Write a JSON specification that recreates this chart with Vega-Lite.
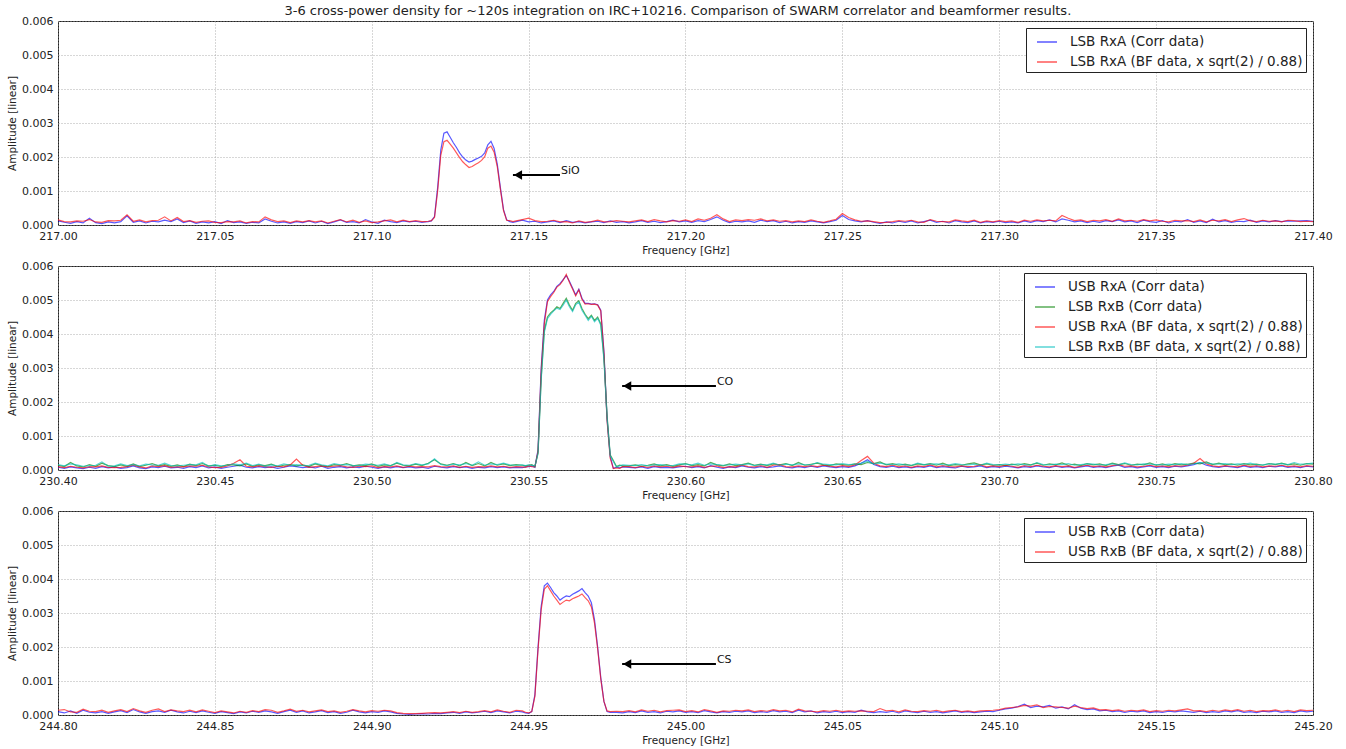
{
"$schema": "https://vega.github.io/schema/vega-lite/v6.json",
"padding": {"left": 7, "top": 4, "right": 0, "bottom": 0},
"title": {"text": "3-6 cross-power density for ~120s integration on IRC+10216. Comparison of SWARM correlator and beamformer results.", "fontSize": 13, "fontWeight": "normal", "font": "DejaVu Sans", "color": "#222", "offset": 1, "dy": 4, "dx": 8, "anchor": "middle"},
"bounds": "flush",
"spacing": 41,
"resolve": {"scale": {"color": "independent", "x": "independent", "y": "independent"}, "legend": {"color": "independent"}},
"datasets": {
"p1": [
{"f":217.000,"c":0.00012,"b":0.00015},{"f":217.002,"c":0.00008,"b":0.00010},{"f":217.004,"c":0.00005,"b":0.00009},{"f":217.006,"c":0.00010,"b":0.00012},{"f":217.008,"c":0.00006,"b":0.00011},{"f":217.010,"c":0.00020,"b":0.00016},{"f":217.012,"c":0.00007,"b":0.00009},{"f":217.014,"c":0.00004,"b":0.00008},{"f":217.016,"c":0.00009,"b":0.00013},{"f":217.018,"c":0.00006,"b":0.00012},
{"f":217.020,"c":0.00010,"b":0.00014},{"f":217.022,"c":0.00027,"b":0.00030},{"f":217.024,"c":0.00008,"b":0.00011},{"f":217.026,"c":0.00012,"b":0.00015},{"f":217.028,"c":0.00006,"b":0.00009},{"f":217.030,"c":0.00011,"b":0.00013},{"f":217.032,"c":0.00009,"b":0.00014},{"f":217.034,"c":0.00014,"b":0.00024},{"f":217.036,"c":0.00010,"b":0.00012},{"f":217.038,"c":0.00018,"b":0.00022},
{"f":217.040,"c":0.00007,"b":0.00010},{"f":217.042,"c":0.00012,"b":0.00013},{"f":217.044,"c":0.00005,"b":0.00008},{"f":217.046,"c":0.00009,"b":0.00011},{"f":217.048,"c":0.00006,"b":0.00012},{"f":217.050,"c":0.00010,"b":0.00008},{"f":217.052,"c":0.00004,"b":0.00007},{"f":217.054,"c":0.00013,"b":0.00010},{"f":217.056,"c":0.00007,"b":0.00009},{"f":217.058,"c":0.00009,"b":0.00012},
{"f":217.060,"c":0.00005,"b":0.00006},{"f":217.062,"c":0.00008,"b":0.00010},{"f":217.064,"c":0.00006,"b":0.00009},{"f":217.066,"c":0.00018,"b":0.00024},{"f":217.068,"c":0.00011,"b":0.00015},{"f":217.070,"c":0.00006,"b":0.00010},{"f":217.072,"c":0.00009,"b":0.00012},{"f":217.074,"c":0.00005,"b":0.00007},{"f":217.076,"c":0.00010,"b":0.00012},{"f":217.078,"c":0.00007,"b":0.00009},
{"f":217.080,"c":0.00012,"b":0.00013},{"f":217.082,"c":0.00006,"b":0.00009},{"f":217.084,"c":0.00011,"b":0.00012},{"f":217.086,"c":0.00004,"b":0.00006},{"f":217.088,"c":0.00009,"b":0.00011},{"f":217.090,"c":0.00015,"b":0.00016},{"f":217.092,"c":0.00008,"b":0.00009},{"f":217.094,"c":0.00010,"b":0.00014},{"f":217.096,"c":0.00006,"b":0.00008},{"f":217.098,"c":0.00016,"b":0.00012},
{"f":217.100,"c":0.00009,"b":0.00007},{"f":217.102,"c":0.00005,"b":0.00009},{"f":217.104,"c":0.00014,"b":0.00012},{"f":217.106,"c":0.00010,"b":0.00015},{"f":217.108,"c":0.00007,"b":0.00009},{"f":217.110,"c":0.00012,"b":0.00014},{"f":217.112,"c":0.00009,"b":0.00010},{"f":217.114,"c":0.00011,"b":0.00013},{"f":217.116,"c":0.00008,"b":0.00010},{"f":217.117,"c":0.00009,"b":0.00010},
{"f":217.118,"c":0.00010,"b":0.00011},{"f":217.119,"c":0.00012,"b":0.00013},{"f":217.120,"c":0.00025,"b":0.00022},{"f":217.121,"c":0.00110,"b":0.00100},{"f":217.122,"c":0.00220,"b":0.00205},{"f":217.123,"c":0.00270,"b":0.00245},{"f":217.124,"c":0.00274,"b":0.00249},{"f":217.125,"c":0.00258,"b":0.00238},{"f":217.126,"c":0.00242,"b":0.00226},{"f":217.127,"c":0.00228,"b":0.00212},
{"f":217.128,"c":0.00212,"b":0.00198},{"f":217.129,"c":0.00200,"b":0.00186},{"f":217.130,"c":0.00191,"b":0.00177},{"f":217.131,"c":0.00185,"b":0.00169},{"f":217.132,"c":0.00188,"b":0.00172},{"f":217.133,"c":0.00193,"b":0.00178},{"f":217.134,"c":0.00197,"b":0.00183},{"f":217.135,"c":0.00202,"b":0.00190},{"f":217.136,"c":0.00212,"b":0.00201},{"f":217.137,"c":0.00236,"b":0.00226},
{"f":217.138,"c":0.00246,"b":0.00232},{"f":217.139,"c":0.00225,"b":0.00214},{"f":217.140,"c":0.00180,"b":0.00172},{"f":217.141,"c":0.00110,"b":0.00105},{"f":217.142,"c":0.00045,"b":0.00042},{"f":217.143,"c":0.00015,"b":0.00014},{"f":217.144,"c":0.00010,"b":0.00013},{"f":217.145,"c":0.00008,"b":0.00010},{"f":217.146,"c":0.00010,"b":0.00012},{"f":217.148,"c":0.00014,"b":0.00016},
{"f":217.150,"c":0.00009,"b":0.00020},{"f":217.152,"c":0.00011,"b":0.00013},{"f":217.154,"c":0.00006,"b":0.00010},{"f":217.156,"c":0.00009,"b":0.00011},{"f":217.158,"c":0.00012,"b":0.00014},{"f":217.160,"c":0.00007,"b":0.00009},{"f":217.162,"c":0.00013,"b":0.00010},{"f":217.164,"c":0.00008,"b":0.00006},{"f":217.166,"c":0.00010,"b":0.00012},{"f":217.168,"c":0.00006,"b":0.00008},
{"f":217.170,"c":0.00009,"b":0.00010},{"f":217.172,"c":0.00011,"b":0.00014},{"f":217.174,"c":0.00007,"b":0.00009},{"f":217.176,"c":0.00012,"b":0.00010},{"f":217.178,"c":0.00008,"b":0.00013},{"f":217.180,"c":0.00010,"b":0.00011},{"f":217.182,"c":0.00006,"b":0.00009},{"f":217.184,"c":0.00009,"b":0.00012},{"f":217.186,"c":0.00013,"b":0.00015},{"f":217.188,"c":0.00008,"b":0.00010},
{"f":217.190,"c":0.00011,"b":0.00016},{"f":217.192,"c":0.00007,"b":0.00012},{"f":217.194,"c":0.00010,"b":0.00009},{"f":217.196,"c":0.00014,"b":0.00013},{"f":217.198,"c":0.00009,"b":0.00011},{"f":217.200,"c":0.00012,"b":0.00015},{"f":217.202,"c":0.00008,"b":0.00010},{"f":217.204,"c":0.00013,"b":0.00018},{"f":217.206,"c":0.00010,"b":0.00014},{"f":217.208,"c":0.00016,"b":0.00020},
{"f":217.210,"c":0.00024,"b":0.00030},{"f":217.212,"c":0.00014,"b":0.00018},{"f":217.214,"c":0.00007,"b":0.00010},{"f":217.216,"c":0.00011,"b":0.00015},{"f":217.218,"c":0.00009,"b":0.00013},{"f":217.220,"c":0.00012,"b":0.00016},{"f":217.222,"c":0.00008,"b":0.00014},{"f":217.224,"c":0.00014,"b":0.00018},{"f":217.226,"c":0.00010,"b":0.00012},{"f":217.228,"c":0.00013,"b":0.00015},
{"f":217.230,"c":0.00007,"b":0.00011},{"f":217.232,"c":0.00011,"b":0.00013},{"f":217.234,"c":0.00006,"b":0.00009},{"f":217.236,"c":0.00010,"b":0.00012},{"f":217.238,"c":0.00008,"b":0.00010},{"f":217.240,"c":0.00012,"b":0.00015},{"f":217.242,"c":0.00009,"b":0.00011},{"f":217.244,"c":0.00006,"b":0.00008},{"f":217.246,"c":0.00010,"b":0.00012},{"f":217.248,"c":0.00014,"b":0.00017},
{"f":217.250,"c":0.00028,"b":0.00034},{"f":217.252,"c":0.00016,"b":0.00022},{"f":217.254,"c":0.00012,"b":0.00015},{"f":217.256,"c":0.00009,"b":0.00011},{"f":217.258,"c":0.00013,"b":0.00012},{"f":217.260,"c":0.00008,"b":0.00010},{"f":217.262,"c":0.00005,"b":0.00007},{"f":217.264,"c":0.00009,"b":0.00008},{"f":217.266,"c":0.00006,"b":0.00010},{"f":217.268,"c":0.00011,"b":0.00013},
{"f":217.270,"c":0.00008,"b":0.00011},{"f":217.272,"c":0.00012,"b":0.00014},{"f":217.274,"c":0.00006,"b":0.00009},{"f":217.276,"c":0.00010,"b":0.00008},{"f":217.278,"c":0.00014,"b":0.00016},{"f":217.280,"c":0.00008,"b":0.00011},{"f":217.282,"c":0.00011,"b":0.00010},{"f":217.284,"c":0.00006,"b":0.00009},{"f":217.286,"c":0.00013,"b":0.00015},{"f":217.288,"c":0.00009,"b":0.00012},
{"f":217.290,"c":0.00007,"b":0.00010},{"f":217.292,"c":0.00012,"b":0.00014},{"f":217.294,"c":0.00006,"b":0.00008},{"f":217.296,"c":0.00010,"b":0.00012},{"f":217.298,"c":0.00008,"b":0.00009},{"f":217.300,"c":0.00011,"b":0.00013},{"f":217.302,"c":0.00007,"b":0.00010},{"f":217.304,"c":0.00009,"b":0.00012},{"f":217.306,"c":0.00006,"b":0.00008},{"f":217.308,"c":0.00012,"b":0.00014},
{"f":217.310,"c":0.00008,"b":0.00011},{"f":217.312,"c":0.00013,"b":0.00015},{"f":217.314,"c":0.00010,"b":0.00012},{"f":217.316,"c":0.00015,"b":0.00014},{"f":217.318,"c":0.00009,"b":0.00012},{"f":217.320,"c":0.00018,"b":0.00028},{"f":217.322,"c":0.00014,"b":0.00020},{"f":217.324,"c":0.00009,"b":0.00013},{"f":217.326,"c":0.00012,"b":0.00015},{"f":217.328,"c":0.00007,"b":0.00010},
{"f":217.330,"c":0.00011,"b":0.00014},{"f":217.332,"c":0.00008,"b":0.00012},{"f":217.334,"c":0.00013,"b":0.00016},{"f":217.336,"c":0.00010,"b":0.00011},{"f":217.338,"c":0.00015,"b":0.00018},{"f":217.340,"c":0.00009,"b":0.00012},{"f":217.342,"c":0.00012,"b":0.00014},{"f":217.344,"c":0.00007,"b":0.00011},{"f":217.346,"c":0.00014,"b":0.00016},{"f":217.348,"c":0.00010,"b":0.00012},
{"f":217.350,"c":0.00008,"b":0.00015},{"f":217.352,"c":0.00013,"b":0.00011},{"f":217.354,"c":0.00006,"b":0.00009},{"f":217.356,"c":0.00011,"b":0.00014},{"f":217.358,"c":0.00009,"b":0.00012},{"f":217.360,"c":0.00016,"b":0.00013},{"f":217.362,"c":0.00008,"b":0.00010},{"f":217.364,"c":0.00012,"b":0.00015},{"f":217.366,"c":0.00007,"b":0.00009},{"f":217.368,"c":0.00017,"b":0.00014},
{"f":217.370,"c":0.00009,"b":0.00012},{"f":217.372,"c":0.00013,"b":0.00016},{"f":217.374,"c":0.00008,"b":0.00010},{"f":217.376,"c":0.00011,"b":0.00015},{"f":217.378,"c":0.00010,"b":0.00019},{"f":217.380,"c":0.00014,"b":0.00012},{"f":217.382,"c":0.00008,"b":0.00010},{"f":217.384,"c":0.00012,"b":0.00014},{"f":217.386,"c":0.00009,"b":0.00011},{"f":217.388,"c":0.00013,"b":0.00012},
{"f":217.390,"c":0.00010,"b":0.00009},{"f":217.392,"c":0.00012,"b":0.00014},{"f":217.394,"c":0.00011,"b":0.00013},{"f":217.396,"c":0.00012,"b":0.00010},{"f":217.398,"c":0.00013,"b":0.00011},{"f":217.400,"c":0.00011,"b":0.00010}
],
"p2": [
{"f":230.400,"a":0.00008,"g":0.00014,"r":0.00010,"t":0.00016},{"f":230.402,"a":0.00005,"g":0.00010,"r":0.00007,"t":0.00012},{"f":230.404,"a":0.00009,"g":0.00022,"r":0.00011,"t":0.00018},{"f":230.406,"a":0.00006,"g":0.00012,"r":0.00008,"t":0.00015},{"f":230.408,"a":0.00004,"g":0.00009,"r":0.00006,"t":0.00011},
{"f":230.410,"a":0.00008,"g":0.00016,"r":0.00010,"t":0.00013},{"f":230.412,"a":0.00005,"g":0.00011,"r":0.00009,"t":0.00014},{"f":230.414,"a":0.00010,"g":0.00020,"r":0.00012,"t":0.00024},{"f":230.416,"a":0.00006,"g":0.00013,"r":0.00008,"t":0.00011},{"f":230.418,"a":0.00009,"g":0.00010,"r":0.00007,"t":0.00012},
{"f":230.420,"a":0.00005,"g":0.00015,"r":0.00008,"t":0.00018},{"f":230.422,"a":0.00007,"g":0.00011,"r":0.00010,"t":0.00013},{"f":230.424,"a":0.00012,"g":0.00018,"r":0.00014,"t":0.00016},{"f":230.426,"a":0.00006,"g":0.00010,"r":0.00009,"t":0.00012},{"f":230.428,"a":0.00004,"g":0.00014,"r":0.00006,"t":0.00017},
{"f":230.430,"a":0.00009,"g":0.00019,"r":0.00012,"t":0.00015},{"f":230.432,"a":0.00007,"g":0.00012,"r":0.00010,"t":0.00014},{"f":230.434,"a":0.00011,"g":0.00016,"r":0.00013,"t":0.00020},{"f":230.436,"a":0.00006,"g":0.00011,"r":0.00008,"t":0.00013},{"f":230.438,"a":0.00008,"g":0.00015,"r":0.00010,"t":0.00012},
{"f":230.440,"a":0.00005,"g":0.00010,"r":0.00009,"t":0.00014},{"f":230.442,"a":0.00010,"g":0.00017,"r":0.00012,"t":0.00016},{"f":230.444,"a":0.00007,"g":0.00013,"r":0.00011,"t":0.00015},{"f":230.446,"a":0.00012,"g":0.00019,"r":0.00014,"t":0.00022},{"f":230.448,"a":0.00006,"g":0.00012,"r":0.00009,"t":0.00011},
{"f":230.450,"a":0.00009,"g":0.00014,"r":0.00007,"t":0.00016},{"f":230.452,"a":0.00005,"g":0.00010,"r":0.00008,"t":0.00012},{"f":230.454,"a":0.00008,"g":0.00016,"r":0.00012,"t":0.00014},{"f":230.456,"a":0.00011,"g":0.00015,"r":0.00020,"t":0.00018},{"f":230.458,"a":0.00014,"g":0.00012,"r":0.00030,"t":0.00015},
{"f":230.460,"a":0.00008,"g":0.00018,"r":0.00011,"t":0.00020},{"f":230.462,"a":0.00006,"g":0.00011,"r":0.00009,"t":0.00013},{"f":230.464,"a":0.00010,"g":0.00015,"r":0.00012,"t":0.00017},{"f":230.466,"a":0.00007,"g":0.00013,"r":0.00010,"t":0.00011},{"f":230.468,"a":0.00009,"g":0.00017,"r":0.00008,"t":0.00015},
{"f":230.470,"a":0.00005,"g":0.00010,"r":0.00011,"t":0.00012},{"f":230.472,"a":0.00008,"g":0.00014,"r":0.00009,"t":0.00018},{"f":230.474,"a":0.00012,"g":0.00016,"r":0.00015,"t":0.00014},{"f":230.476,"a":0.00010,"g":0.00012,"r":0.00032,"t":0.00016},{"f":230.478,"a":0.00007,"g":0.00015,"r":0.00014,"t":0.00013},
{"f":230.480,"a":0.00009,"g":0.00011,"r":0.00008,"t":0.00014},{"f":230.482,"a":0.00006,"g":0.00018,"r":0.00010,"t":0.00020},{"f":230.484,"a":0.00011,"g":0.00013,"r":0.00012,"t":0.00015},{"f":230.486,"a":0.00005,"g":0.00010,"r":0.00009,"t":0.00012},{"f":230.488,"a":0.00008,"g":0.00016,"r":0.00011,"t":0.00019},
{"f":230.490,"a":0.00010,"g":0.00014,"r":0.00013,"t":0.00015},{"f":230.492,"a":0.00006,"g":0.00019,"r":0.00009,"t":0.00016},{"f":230.494,"a":0.00009,"g":0.00012,"r":0.00008,"t":0.00014},{"f":230.496,"a":0.00007,"g":0.00015,"r":0.00011,"t":0.00013},{"f":230.498,"a":0.00011,"g":0.00013,"r":0.00010,"t":0.00017},
{"f":230.500,"a":0.00008,"g":0.00018,"r":0.00012,"t":0.00016},{"f":230.502,"a":0.00005,"g":0.00011,"r":0.00007,"t":0.00014},{"f":230.504,"a":0.00009,"g":0.00015,"r":0.00010,"t":0.00018},{"f":230.506,"a":0.00006,"g":0.00013,"r":0.00009,"t":0.00012},{"f":230.508,"a":0.00010,"g":0.00020,"r":0.00012,"t":0.00022},
{"f":230.510,"a":0.00007,"g":0.00014,"r":0.00008,"t":0.00015},{"f":230.512,"a":0.00009,"g":0.00012,"r":0.00011,"t":0.00014},{"f":230.514,"a":0.00006,"g":0.00017,"r":0.00009,"t":0.00019},{"f":230.516,"a":0.00008,"g":0.00013,"r":0.00010,"t":0.00015},{"f":230.518,"a":0.00005,"g":0.00020,"r":0.00009,"t":0.00018},
{"f":230.520,"a":0.00011,"g":0.00030,"r":0.00013,"t":0.00033},{"f":230.522,"a":0.00008,"g":0.00018,"r":0.00010,"t":0.00016},{"f":230.524,"a":0.00006,"g":0.00014,"r":0.00009,"t":0.00013},{"f":230.526,"a":0.00010,"g":0.00019,"r":0.00012,"t":0.00017},{"f":230.528,"a":0.00007,"g":0.00012,"r":0.00008,"t":0.00015},
{"f":230.530,"a":0.00009,"g":0.00022,"r":0.00011,"t":0.00019},{"f":230.532,"a":0.00005,"g":0.00013,"r":0.00008,"t":0.00014},{"f":230.534,"a":0.00008,"g":0.00019,"r":0.00010,"t":0.00024},{"f":230.536,"a":0.00006,"g":0.00012,"r":0.00009,"t":0.00014},{"f":230.538,"a":0.00010,"g":0.00022,"r":0.00012,"t":0.00018},
{"f":230.540,"a":0.00007,"g":0.00014,"r":0.00009,"t":0.00016},{"f":230.542,"a":0.00009,"g":0.00018,"r":0.00011,"t":0.00020},{"f":230.544,"a":0.00006,"g":0.00013,"r":0.00008,"t":0.00015},{"f":230.546,"a":0.00008,"g":0.00016,"r":0.00010,"t":0.00014},{"f":230.548,"a":0.00007,"g":0.00014,"r":0.00009,"t":0.00015},
{"f":230.549,"a":0.00009,"g":0.00012,"r":0.00008,"t":0.00013},{"f":230.550,"a":0.00010,"g":0.00014,"r":0.00012,"t":0.00015},{"f":230.551,"a":0.00012,"g":0.00016,"r":0.00010,"t":0.00014},{"f":230.552,"a":0.00008,"g":0.00010,"r":0.00009,"t":0.00012},{"f":230.553,"a":0.00060,"g":0.00050,"r":0.00055,"t":0.00048},
{"f":230.554,"a":0.00300,"g":0.00270,"r":0.00290,"t":0.00265},{"f":230.555,"a":0.00440,"g":0.00410,"r":0.00430,"t":0.00405},{"f":230.556,"a":0.00500,"g":0.00450,"r":0.00495,"t":0.00445},{"f":230.557,"a":0.00515,"g":0.00462,"r":0.00510,"t":0.00458},{"f":230.558,"a":0.00525,"g":0.00470,"r":0.00522,"t":0.00468},
{"f":230.559,"a":0.00540,"g":0.00480,"r":0.00538,"t":0.00476},{"f":230.560,"a":0.00548,"g":0.00475,"r":0.00545,"t":0.00472},{"f":230.561,"a":0.00560,"g":0.00490,"r":0.00558,"t":0.00485},{"f":230.562,"a":0.00572,"g":0.00505,"r":0.00575,"t":0.00500},{"f":230.563,"a":0.00555,"g":0.00485,"r":0.00552,"t":0.00480},
{"f":230.564,"a":0.00535,"g":0.00470,"r":0.00532,"t":0.00466},{"f":230.565,"a":0.00515,"g":0.00490,"r":0.00512,"t":0.00486},{"f":230.566,"a":0.00532,"g":0.00498,"r":0.00530,"t":0.00494},{"f":230.567,"a":0.00505,"g":0.00475,"r":0.00502,"t":0.00470},{"f":230.568,"a":0.00490,"g":0.00458,"r":0.00488,"t":0.00455},
{"f":230.569,"a":0.00490,"g":0.00445,"r":0.00489,"t":0.00440},{"f":230.570,"a":0.00488,"g":0.00455,"r":0.00487,"t":0.00452},{"f":230.571,"a":0.00489,"g":0.00440,"r":0.00488,"t":0.00436},{"f":230.572,"a":0.00486,"g":0.00450,"r":0.00485,"t":0.00446},{"f":230.573,"a":0.00470,"g":0.00430,"r":0.00468,"t":0.00426},
{"f":230.574,"a":0.00350,"g":0.00330,"r":0.00345,"t":0.00325},{"f":230.575,"a":0.00150,"g":0.00160,"r":0.00145,"t":0.00155},{"f":230.576,"a":0.00040,"g":0.00045,"r":0.00035,"t":0.00042},{"f":230.577,"a":0.00005,"g":0.00028,"r":0.00004,"t":0.00025},{"f":230.578,"a":0.00008,"g":0.00010,"r":0.00006,"t":0.00009},
{"f":230.579,"a":0.00006,"g":0.00014,"r":0.00005,"t":0.00012},{"f":230.580,"a":0.00009,"g":0.00012,"r":0.00010,"t":0.00015},{"f":230.582,"a":0.00008,"g":0.00012,"r":0.00010,"t":0.00014},{"f":230.584,"a":0.00006,"g":0.00015,"r":0.00007,"t":0.00013},{"f":230.586,"a":0.00009,"g":0.00011,"r":0.00011,"t":0.00016},
{"f":230.588,"a":0.00005,"g":0.00014,"r":0.00008,"t":0.00012},{"f":230.590,"a":0.00010,"g":0.00018,"r":0.00012,"t":0.00015},{"f":230.592,"a":0.00007,"g":0.00012,"r":0.00009,"t":0.00016},{"f":230.594,"a":0.00008,"g":0.00016,"r":0.00011,"t":0.00014},{"f":230.596,"a":0.00006,"g":0.00011,"r":0.00008,"t":0.00013},
{"f":230.598,"a":0.00009,"g":0.00015,"r":0.00012,"t":0.00018},{"f":230.600,"a":0.00011,"g":0.00019,"r":0.00010,"t":0.00017},{"f":230.602,"a":0.00007,"g":0.00013,"r":0.00009,"t":0.00015},{"f":230.604,"a":0.00010,"g":0.00016,"r":0.00012,"t":0.00020},{"f":230.606,"a":0.00006,"g":0.00012,"r":0.00008,"t":0.00014},
{"f":230.608,"a":0.00013,"g":0.00022,"r":0.00011,"t":0.00018},{"f":230.610,"a":0.00008,"g":0.00015,"r":0.00012,"t":0.00016},{"f":230.612,"a":0.00005,"g":0.00012,"r":0.00007,"t":0.00014},{"f":230.614,"a":0.00009,"g":0.00018,"r":0.00010,"t":0.00015},{"f":230.616,"a":0.00007,"g":0.00013,"r":0.00009,"t":0.00017},
{"f":230.618,"a":0.00012,"g":0.00016,"r":0.00014,"t":0.00015},{"f":230.620,"a":0.00008,"g":0.00020,"r":0.00010,"t":0.00018},{"f":230.622,"a":0.00006,"g":0.00014,"r":0.00009,"t":0.00013},{"f":230.624,"a":0.00010,"g":0.00017,"r":0.00013,"t":0.00016},{"f":230.626,"a":0.00007,"g":0.00013,"r":0.00008,"t":0.00015},
{"f":230.628,"a":0.00009,"g":0.00018,"r":0.00014,"t":0.00020},{"f":230.630,"a":0.00012,"g":0.00015,"r":0.00016,"t":0.00014},{"f":230.632,"a":0.00008,"g":0.00019,"r":0.00010,"t":0.00017},{"f":230.634,"a":0.00006,"g":0.00013,"r":0.00009,"t":0.00015},{"f":230.636,"a":0.00010,"g":0.00022,"r":0.00012,"t":0.00018},
{"f":230.638,"a":0.00007,"g":0.00014,"r":0.00010,"t":0.00016},{"f":230.640,"a":0.00011,"g":0.00017,"r":0.00013,"t":0.00015},{"f":230.642,"a":0.00008,"g":0.00020,"r":0.00010,"t":0.00022},{"f":230.644,"a":0.00012,"g":0.00015,"r":0.00014,"t":0.00017},{"f":230.646,"a":0.00009,"g":0.00013,"r":0.00011,"t":0.00016},
{"f":230.648,"a":0.00007,"g":0.00018,"r":0.00009,"t":0.00015},{"f":230.650,"a":0.00010,"g":0.00016,"r":0.00013,"t":0.00019},{"f":230.652,"a":0.00008,"g":0.00014,"r":0.00010,"t":0.00016},{"f":230.654,"a":0.00012,"g":0.00018,"r":0.00015,"t":0.00017},{"f":230.656,"a":0.00020,"g":0.00016,"r":0.00028,"t":0.00020},
{"f":230.658,"a":0.00030,"g":0.00022,"r":0.00040,"t":0.00025},{"f":230.660,"a":0.00016,"g":0.00019,"r":0.00020,"t":0.00018},{"f":230.662,"a":0.00010,"g":0.00024,"r":0.00012,"t":0.00020},{"f":230.664,"a":0.00008,"g":0.00015,"r":0.00010,"t":0.00017},{"f":230.666,"a":0.00011,"g":0.00019,"r":0.00014,"t":0.00016},
{"f":230.668,"a":0.00007,"g":0.00014,"r":0.00009,"t":0.00018},{"f":230.670,"a":0.00009,"g":0.00017,"r":0.00012,"t":0.00015},{"f":230.672,"a":0.00006,"g":0.00013,"r":0.00008,"t":0.00014},{"f":230.674,"a":0.00010,"g":0.00018,"r":0.00012,"t":0.00020},{"f":230.676,"a":0.00008,"g":0.00015,"r":0.00010,"t":0.00016},
{"f":230.678,"a":0.00012,"g":0.00019,"r":0.00015,"t":0.00017},{"f":230.680,"a":0.00007,"g":0.00014,"r":0.00009,"t":0.00018},{"f":230.682,"a":0.00010,"g":0.00020,"r":0.00013,"t":0.00016},{"f":230.684,"a":0.00008,"g":0.00013,"r":0.00010,"t":0.00015},{"f":230.686,"a":0.00006,"g":0.00016,"r":0.00009,"t":0.00019},
{"f":230.688,"a":0.00011,"g":0.00014,"r":0.00012,"t":0.00016},{"f":230.690,"a":0.00008,"g":0.00018,"r":0.00010,"t":0.00015},{"f":230.692,"a":0.00009,"g":0.00021,"r":0.00011,"t":0.00017},{"f":230.694,"a":0.00012,"g":0.00015,"r":0.00015,"t":0.00014},{"f":230.696,"a":0.00007,"g":0.00018,"r":0.00009,"t":0.00020},
{"f":230.698,"a":0.00010,"g":0.00014,"r":0.00012,"t":0.00016},{"f":230.700,"a":0.00008,"g":0.00016,"r":0.00010,"t":0.00015},{"f":230.702,"a":0.00011,"g":0.00013,"r":0.00014,"t":0.00017},{"f":230.704,"a":0.00009,"g":0.00017,"r":0.00011,"t":0.00015},{"f":230.706,"a":0.00006,"g":0.00014,"r":0.00008,"t":0.00018},
{"f":230.708,"a":0.00010,"g":0.00019,"r":0.00013,"t":0.00016},{"f":230.710,"a":0.00008,"g":0.00015,"r":0.00010,"t":0.00014},{"f":230.712,"a":0.00012,"g":0.00020,"r":0.00014,"t":0.00022},{"f":230.714,"a":0.00009,"g":0.00014,"r":0.00011,"t":0.00016},{"f":230.716,"a":0.00007,"g":0.00018,"r":0.00009,"t":0.00015},
{"f":230.718,"a":0.00011,"g":0.00015,"r":0.00013,"t":0.00017},{"f":230.720,"a":0.00008,"g":0.00021,"r":0.00010,"t":0.00016},{"f":230.722,"a":0.00010,"g":0.00014,"r":0.00012,"t":0.00019},{"f":230.724,"a":0.00006,"g":0.00017,"r":0.00008,"t":0.00014},{"f":230.726,"a":0.00009,"g":0.00013,"r":0.00011,"t":0.00016},
{"f":230.728,"a":0.00012,"g":0.00019,"r":0.00014,"t":0.00018},{"f":230.730,"a":0.00008,"g":0.00015,"r":0.00010,"t":0.00017},{"f":230.732,"a":0.00010,"g":0.00018,"r":0.00012,"t":0.00015},{"f":230.734,"a":0.00007,"g":0.00013,"r":0.00009,"t":0.00016},{"f":230.736,"a":0.00011,"g":0.00020,"r":0.00013,"t":0.00018},
{"f":230.738,"a":0.00014,"g":0.00016,"r":0.00016,"t":0.00015},{"f":230.740,"a":0.00008,"g":0.00019,"r":0.00011,"t":0.00021},{"f":230.742,"a":0.00010,"g":0.00014,"r":0.00012,"t":0.00016},{"f":230.744,"a":0.00006,"g":0.00017,"r":0.00009,"t":0.00015},{"f":230.746,"a":0.00009,"g":0.00015,"r":0.00011,"t":0.00018},
{"f":230.748,"a":0.00012,"g":0.00021,"r":0.00014,"t":0.00017},{"f":230.750,"a":0.00008,"g":0.00014,"r":0.00010,"t":0.00016},{"f":230.752,"a":0.00010,"g":0.00018,"r":0.00012,"t":0.00015},{"f":230.754,"a":0.00007,"g":0.00013,"r":0.00009,"t":0.00017},{"f":230.756,"a":0.00011,"g":0.00019,"r":0.00013,"t":0.00016},
{"f":230.758,"a":0.00009,"g":0.00015,"r":0.00011,"t":0.00019},{"f":230.760,"a":0.00012,"g":0.00017,"r":0.00014,"t":0.00016},{"f":230.762,"a":0.00016,"g":0.00020,"r":0.00020,"t":0.00018},{"f":230.764,"a":0.00022,"g":0.00018,"r":0.00034,"t":0.00022},{"f":230.766,"a":0.00014,"g":0.00024,"r":0.00018,"t":0.00020},
{"f":230.768,"a":0.00010,"g":0.00016,"r":0.00012,"t":0.00018},{"f":230.770,"a":0.00008,"g":0.00020,"r":0.00010,"t":0.00017},{"f":230.772,"a":0.00011,"g":0.00015,"r":0.00013,"t":0.00019},{"f":230.774,"a":0.00009,"g":0.00018,"r":0.00011,"t":0.00016},{"f":230.776,"a":0.00007,"g":0.00014,"r":0.00009,"t":0.00018},
{"f":230.778,"a":0.00012,"g":0.00019,"r":0.00014,"t":0.00017},{"f":230.780,"a":0.00008,"g":0.00015,"r":0.00010,"t":0.00020},{"f":230.782,"a":0.00010,"g":0.00017,"r":0.00013,"t":0.00016},{"f":230.784,"a":0.00007,"g":0.00014,"r":0.00009,"t":0.00015},{"f":230.786,"a":0.00011,"g":0.00019,"r":0.00012,"t":0.00018},
{"f":230.788,"a":0.00009,"g":0.00016,"r":0.00011,"t":0.00017},{"f":230.790,"a":0.00012,"g":0.00020,"r":0.00014,"t":0.00019},{"f":230.792,"a":0.00008,"g":0.00015,"r":0.00010,"t":0.00016},{"f":230.794,"a":0.00010,"g":0.00018,"r":0.00012,"t":0.00022},{"f":230.796,"a":0.00007,"g":0.00014,"r":0.00009,"t":0.00017},
{"f":230.798,"a":0.00011,"g":0.00019,"r":0.00013,"t":0.00018},{"f":230.800,"a":0.00009,"g":0.00017,"r":0.00011,"t":0.00020}
],
"p3": [
{"f":244.800,"c":0.00010,"b":0.00014},{"f":244.802,"c":0.00006,"b":0.00016},{"f":244.804,"c":0.00012,"b":0.00009},{"f":244.806,"c":0.00005,"b":0.00008},{"f":244.808,"c":0.00014,"b":0.00017},{"f":244.810,"c":0.00008,"b":0.00011},{"f":244.812,"c":0.00006,"b":0.00010},{"f":244.814,"c":0.00010,"b":0.00014},{"f":244.816,"c":0.00005,"b":0.00008},{"f":244.818,"c":0.00009,"b":0.00012},
{"f":244.820,"c":0.00013,"b":0.00016},{"f":244.822,"c":0.00007,"b":0.00010},{"f":244.824,"c":0.00016,"b":0.00019},{"f":244.826,"c":0.00009,"b":0.00012},{"f":244.828,"c":0.00005,"b":0.00008},{"f":244.830,"c":0.00010,"b":0.00014},{"f":244.832,"c":0.00012,"b":0.00018},{"f":244.834,"c":0.00008,"b":0.00010},{"f":244.836,"c":0.00014,"b":0.00015},{"f":244.838,"c":0.00009,"b":0.00012},
{"f":244.840,"c":0.00006,"b":0.00010},{"f":244.842,"c":0.00011,"b":0.00014},{"f":244.844,"c":0.00007,"b":0.00009},{"f":244.846,"c":0.00012,"b":0.00015},{"f":244.848,"c":0.00008,"b":0.00011},{"f":244.850,"c":0.00005,"b":0.00007},{"f":244.852,"c":0.00010,"b":0.00012},{"f":244.854,"c":0.00007,"b":0.00009},{"f":244.856,"c":0.00004,"b":0.00006},{"f":244.858,"c":0.00009,"b":0.00011},
{"f":244.860,"c":0.00006,"b":0.00008},{"f":244.862,"c":0.00011,"b":0.00013},{"f":244.864,"c":0.00008,"b":0.00010},{"f":244.866,"c":0.00012,"b":0.00016},{"f":244.868,"c":0.00009,"b":0.00014},{"f":244.870,"c":0.00005,"b":0.00008},{"f":244.872,"c":0.00010,"b":0.00012},{"f":244.874,"c":0.00014,"b":0.00017},{"f":244.876,"c":0.00008,"b":0.00011},{"f":244.878,"c":0.00012,"b":0.00014},
{"f":244.880,"c":0.00006,"b":0.00009},{"f":244.882,"c":0.00009,"b":0.00012},{"f":244.884,"c":0.00013,"b":0.00015},{"f":244.886,"c":0.00007,"b":0.00010},{"f":244.888,"c":0.00010,"b":0.00012},{"f":244.890,"c":0.00005,"b":0.00008},{"f":244.892,"c":0.00008,"b":0.00011},{"f":244.894,"c":0.00014,"b":0.00016},{"f":244.896,"c":0.00009,"b":0.00012},{"f":244.898,"c":0.00006,"b":0.00009},
{"f":244.900,"c":0.00010,"b":0.00013},{"f":244.902,"c":0.00008,"b":0.00011},{"f":244.904,"c":0.00012,"b":0.00014},{"f":244.906,"c":0.00009,"b":0.00012},{"f":244.908,"c":0.00005,"b":0.00007},{"f":244.910,"c":0.00003,"b":0.00005},{"f":244.912,"c":0.00002,"b":0.00004},{"f":244.914,"c":0.00003,"b":0.00004},{"f":244.916,"c":0.00004,"b":0.00005},{"f":244.918,"c":0.00003,"b":0.00006},
{"f":244.920,"c":0.00005,"b":0.00007},{"f":244.922,"c":0.00004,"b":0.00006},{"f":244.924,"c":0.00006,"b":0.00008},{"f":244.926,"c":0.00008,"b":0.00010},{"f":244.928,"c":0.00005,"b":0.00007},{"f":244.930,"c":0.00009,"b":0.00011},{"f":244.932,"c":0.00006,"b":0.00008},{"f":244.934,"c":0.00008,"b":0.00010},{"f":244.936,"c":0.00011,"b":0.00013},{"f":244.938,"c":0.00007,"b":0.00009},
{"f":244.940,"c":0.00012,"b":0.00015},{"f":244.942,"c":0.00009,"b":0.00011},{"f":244.944,"c":0.00006,"b":0.00008},{"f":244.946,"c":0.00011,"b":0.00014},{"f":244.948,"c":0.00009,"b":0.00012},{"f":244.949,"c":0.00006,"b":0.00008},{"f":244.950,"c":0.00005,"b":0.00006},{"f":244.951,"c":0.00010,"b":0.00010},{"f":244.952,"c":0.00060,"b":0.00055},{"f":244.953,"c":0.00200,"b":0.00192},
{"f":244.954,"c":0.00320,"b":0.00310},{"f":244.955,"c":0.00380,"b":0.00370},{"f":244.956,"c":0.00388,"b":0.00380},{"f":244.957,"c":0.00375,"b":0.00365},{"f":244.958,"c":0.00360,"b":0.00350},{"f":244.959,"c":0.00350,"b":0.00338},{"f":244.960,"c":0.00338,"b":0.00325},{"f":244.961,"c":0.00345,"b":0.00332},{"f":244.962,"c":0.00350,"b":0.00338},{"f":244.963,"c":0.00348,"b":0.00336},
{"f":244.964,"c":0.00355,"b":0.00342},{"f":244.965,"c":0.00360,"b":0.00346},{"f":244.966,"c":0.00365,"b":0.00350},{"f":244.967,"c":0.00372,"b":0.00356},{"f":244.968,"c":0.00360,"b":0.00345},{"f":244.969,"c":0.00350,"b":0.00336},{"f":244.970,"c":0.00330,"b":0.00318},{"f":244.971,"c":0.00280,"b":0.00270},{"f":244.972,"c":0.00200,"b":0.00195},{"f":244.973,"c":0.00110,"b":0.00105},
{"f":244.974,"c":0.00040,"b":0.00040},{"f":244.975,"c":0.00010,"b":0.00012},{"f":244.976,"c":0.00008,"b":0.00010},{"f":244.978,"c":0.00008,"b":0.00011},{"f":244.980,"c":0.00006,"b":0.00010},{"f":244.982,"c":0.00010,"b":0.00013},{"f":244.984,"c":0.00007,"b":0.00009},{"f":244.986,"c":0.00012,"b":0.00015},{"f":244.988,"c":0.00008,"b":0.00011},{"f":244.990,"c":0.00010,"b":0.00014},
{"f":244.992,"c":0.00006,"b":0.00009},{"f":244.994,"c":0.00011,"b":0.00013},{"f":244.996,"c":0.00009,"b":0.00014},{"f":244.998,"c":0.00012,"b":0.00015},{"f":245.000,"c":0.00008,"b":0.00010},{"f":245.002,"c":0.00010,"b":0.00013},{"f":245.004,"c":0.00007,"b":0.00009},{"f":245.006,"c":0.00013,"b":0.00016},{"f":245.008,"c":0.00009,"b":0.00012},{"f":245.010,"c":0.00006,"b":0.00008},
{"f":245.012,"c":0.00010,"b":0.00012},{"f":245.014,"c":0.00008,"b":0.00011},{"f":245.016,"c":0.00011,"b":0.00014},{"f":245.018,"c":0.00009,"b":0.00012},{"f":245.020,"c":0.00012,"b":0.00015},{"f":245.022,"c":0.00007,"b":0.00010},{"f":245.024,"c":0.00010,"b":0.00013},{"f":245.026,"c":0.00008,"b":0.00011},{"f":245.028,"c":0.00013,"b":0.00016},{"f":245.030,"c":0.00009,"b":0.00012},
{"f":245.032,"c":0.00011,"b":0.00014},{"f":245.034,"c":0.00007,"b":0.00009},{"f":245.036,"c":0.00014,"b":0.00017},{"f":245.038,"c":0.00009,"b":0.00012},{"f":245.040,"c":0.00012,"b":0.00011},{"f":245.042,"c":0.00006,"b":0.00009},{"f":245.044,"c":0.00010,"b":0.00013},{"f":245.046,"c":0.00008,"b":0.00011},{"f":245.048,"c":0.00011,"b":0.00014},{"f":245.050,"c":0.00007,"b":0.00010},
{"f":245.052,"c":0.00010,"b":0.00012},{"f":245.054,"c":0.00008,"b":0.00011},{"f":245.056,"c":0.00014,"b":0.00012},{"f":245.058,"c":0.00009,"b":0.00011},{"f":245.060,"c":0.00007,"b":0.00010},{"f":245.062,"c":0.00010,"b":0.00019},{"f":245.064,"c":0.00008,"b":0.00012},{"f":245.066,"c":0.00011,"b":0.00014},{"f":245.068,"c":0.00006,"b":0.00009},{"f":245.070,"c":0.00012,"b":0.00015},
{"f":245.072,"c":0.00009,"b":0.00011},{"f":245.074,"c":0.00007,"b":0.00010},{"f":245.076,"c":0.00011,"b":0.00013},{"f":245.078,"c":0.00008,"b":0.00011},{"f":245.080,"c":0.00010,"b":0.00014},{"f":245.082,"c":0.00006,"b":0.00009},{"f":245.084,"c":0.00009,"b":0.00012},{"f":245.086,"c":0.00012,"b":0.00014},{"f":245.088,"c":0.00008,"b":0.00010},{"f":245.090,"c":0.00010,"b":0.00012},
{"f":245.092,"c":0.00007,"b":0.00009},{"f":245.094,"c":0.00009,"b":0.00012},{"f":245.096,"c":0.00011,"b":0.00013},{"f":245.098,"c":0.00010,"b":0.00014},{"f":245.100,"c":0.00014,"b":0.00016},{"f":245.102,"c":0.00018,"b":0.00020},{"f":245.104,"c":0.00020,"b":0.00022},{"f":245.106,"c":0.00025,"b":0.00024},{"f":245.108,"c":0.00032,"b":0.00028},{"f":245.110,"c":0.00022,"b":0.00026},
{"f":245.112,"c":0.00026,"b":0.00030},{"f":245.114,"c":0.00024,"b":0.00022},{"f":245.116,"c":0.00028,"b":0.00025},{"f":245.118,"c":0.00020,"b":0.00024},{"f":245.120,"c":0.00024,"b":0.00022},{"f":245.122,"c":0.00018,"b":0.00020},{"f":245.124,"c":0.00030,"b":0.00026},{"f":245.126,"c":0.00020,"b":0.00022},{"f":245.128,"c":0.00016,"b":0.00019},{"f":245.130,"c":0.00018,"b":0.00021},
{"f":245.132,"c":0.00012,"b":0.00015},{"f":245.134,"c":0.00014,"b":0.00016},{"f":245.136,"c":0.00010,"b":0.00013},{"f":245.138,"c":0.00012,"b":0.00015},{"f":245.140,"c":0.00008,"b":0.00011},{"f":245.142,"c":0.00011,"b":0.00014},{"f":245.144,"c":0.00009,"b":0.00012},{"f":245.146,"c":0.00012,"b":0.00015},{"f":245.148,"c":0.00007,"b":0.00010},{"f":245.150,"c":0.00010,"b":0.00013},
{"f":245.152,"c":0.00008,"b":0.00011},{"f":245.154,"c":0.00011,"b":0.00014},{"f":245.156,"c":0.00009,"b":0.00012},{"f":245.158,"c":0.00012,"b":0.00015},{"f":245.160,"c":0.00010,"b":0.00018},{"f":245.162,"c":0.00008,"b":0.00012},{"f":245.164,"c":0.00011,"b":0.00013},{"f":245.166,"c":0.00007,"b":0.00010},{"f":245.168,"c":0.00010,"b":0.00014},{"f":245.170,"c":0.00008,"b":0.00011},
{"f":245.172,"c":0.00012,"b":0.00015},{"f":245.174,"c":0.00009,"b":0.00012},{"f":245.176,"c":0.00013,"b":0.00016},{"f":245.178,"c":0.00008,"b":0.00011},{"f":245.180,"c":0.00010,"b":0.00014},{"f":245.182,"c":0.00007,"b":0.00010},{"f":245.184,"c":0.00011,"b":0.00013},{"f":245.186,"c":0.00009,"b":0.00012},{"f":245.188,"c":0.00012,"b":0.00015},{"f":245.190,"c":0.00008,"b":0.00011},
{"f":245.192,"c":0.00010,"b":0.00014},{"f":245.194,"c":0.00007,"b":0.00010},{"f":245.196,"c":0.00012,"b":0.00015},{"f":245.198,"c":0.00009,"b":0.00013},{"f":245.200,"c":0.00011,"b":0.00014}
],
"a1": [{"x":217.145,"x2":217.160,"y":0.00147,"t":"SiO"}],
"a2": [{"x":230.5798,"x2":230.6097,"y":0.00247,"t":"CO"}],
"a3": [{"x":244.9798,"x2":245.0097,"y":0.0015,"t":"CS"}]
},
"vconcat": [
{"width":1255,"height":204,
"layer":[
{"data":{"name":"p1"},"transform":[{"fold":["c","b"],"as":["s","v"]}],
"mark":{"type":"line","strokeWidth":1.2,"opacity":0.65},
"encoding":{
"x":{"field":"f","type":"quantitative","scale":{"domain":[217,217.4],"nice":false,"zero":false},"axis":{"values":[217.0,217.05,217.1,217.15,217.2,217.25,217.3,217.35,217.4],"format":".2f","title":"Frequency [GHz]","labelOverlap":false}},
"y":{"field":"v","type":"quantitative","scale":{"domain":[0,0.006],"nice":false},"axis":{"values":[0,0.001,0.002,0.003,0.004,0.005,0.006],"tickCount":7,"labelOverlap":false,"format":".3f","title":"Amplitude [linear]"}},
"color":{"field":"s","type":"nominal","scale":{"domain":["c","b"],"range":["#0000ff","#ff0000"]},"legend":{"labelExpr":"datum.value == 'c' ? 'LSB RxA (Corr data)' : 'LSB RxA (BF data, x sqrt(2) / 0.88)'"}}}},
{"data":{"name":"a1"},"mark":{"type":"rule","strokeWidth":2,"color":"black"},"encoding":{"x":{"field":"x","type":"quantitative"},"x2":{"field":"x2"},"y":{"field":"y","type":"quantitative"}}},
{"data":{"name":"a1"},"mark":{"type":"point","shape":"triangle-left","filled":true,"color":"black","opacity":1,"size":90,"xOffset":5},"encoding":{"x":{"field":"x","type":"quantitative"},"y":{"field":"y","type":"quantitative"}}},
{"data":{"name":"a1"},"mark":{"type":"text","align":"left","baseline":"bottom","dx":1,"dy":1,"fontSize":11,"color":"#111"},"encoding":{"x":{"field":"x2","type":"quantitative"},"y":{"field":"y","type":"quantitative"},"text":{"field":"t"}}}
]},
{"width":1255,"height":204,
"layer":[
{"data":{"name":"p2"},"transform":[{"fold":["a","g","r","t"],"as":["s","v"]}],
"mark":{"type":"line","strokeWidth":1.2,"opacity":0.65},
"encoding":{
"x":{"field":"f","type":"quantitative","scale":{"domain":[230.4,230.8],"nice":false,"zero":false},"axis":{"values":[230.4,230.45,230.5,230.55,230.6,230.65,230.7,230.75,230.8],"format":".2f","title":"Frequency [GHz]","labelOverlap":false}},
"y":{"field":"v","type":"quantitative","scale":{"domain":[0,0.006],"nice":false},"axis":{"values":[0,0.001,0.002,0.003,0.004,0.005,0.006],"tickCount":7,"labelOverlap":false,"format":".3f","title":"Amplitude [linear]"}},
"color":{"field":"s","type":"nominal","scale":{"domain":["a","g","r","t"],"range":["#0000ff","#008000","#ff0000","#00bfbf"]},"legend":{"labelExpr":"datum.value == 'a' ? 'USB RxA (Corr data)' : datum.value == 'g' ? 'LSB RxB (Corr data)' : datum.value == 'r' ? 'USB RxA (BF data, x sqrt(2) / 0.88)' : 'LSB RxB (BF data, x sqrt(2) / 0.88)'"}}}},
{"data":{"name":"a2"},"mark":{"type":"rule","strokeWidth":2,"color":"black"},"encoding":{"x":{"field":"x","type":"quantitative"},"x2":{"field":"x2"},"y":{"field":"y","type":"quantitative"}}},
{"data":{"name":"a2"},"mark":{"type":"point","shape":"triangle-left","filled":true,"color":"black","opacity":1,"size":90,"xOffset":5},"encoding":{"x":{"field":"x","type":"quantitative"},"y":{"field":"y","type":"quantitative"}}},
{"data":{"name":"a2"},"mark":{"type":"text","align":"left","baseline":"bottom","dx":1,"dy":1,"fontSize":11,"color":"#111"},"encoding":{"x":{"field":"x2","type":"quantitative"},"y":{"field":"y","type":"quantitative"},"text":{"field":"t"}}}
]},
{"width":1255,"height":204,
"layer":[
{"data":{"name":"p3"},"transform":[{"fold":["c","b"],"as":["s","v"]}],
"mark":{"type":"line","strokeWidth":1.2,"opacity":0.65},
"encoding":{
"x":{"field":"f","type":"quantitative","scale":{"domain":[244.8,245.2],"nice":false,"zero":false},"axis":{"values":[244.8,244.85,244.9,244.95,245.0,245.05,245.1,245.15,245.2],"format":".2f","title":"Frequency [GHz]","labelOverlap":false}},
"y":{"field":"v","type":"quantitative","scale":{"domain":[0,0.006],"nice":false},"axis":{"values":[0,0.001,0.002,0.003,0.004,0.005,0.006],"tickCount":7,"labelOverlap":false,"format":".3f","title":"Amplitude [linear]"}},
"color":{"field":"s","type":"nominal","scale":{"domain":["c","b"],"range":["#0000ff","#ff0000"]},"legend":{"labelExpr":"datum.value == 'c' ? 'USB RxB (Corr data)' : 'USB RxB (BF data, x sqrt(2) / 0.88)'"}}}},
{"data":{"name":"a3"},"mark":{"type":"rule","strokeWidth":2,"color":"black"},"encoding":{"x":{"field":"x","type":"quantitative"},"x2":{"field":"x2"},"y":{"field":"y","type":"quantitative"}}},
{"data":{"name":"a3"},"mark":{"type":"point","shape":"triangle-left","filled":true,"color":"black","opacity":1,"size":90,"xOffset":5},"encoding":{"x":{"field":"x","type":"quantitative"},"y":{"field":"y","type":"quantitative"}}},
{"data":{"name":"a3"},"mark":{"type":"text","align":"left","baseline":"bottom","dx":1,"dy":1,"fontSize":11,"color":"#111"},"encoding":{"x":{"field":"x2","type":"quantitative"},"y":{"field":"y","type":"quantitative"},"text":{"field":"t"}}}
]}
],
"config": {
"font": "DejaVu Sans",
"background": "white",
"view": {"stroke": "#222", "strokeWidth": 1},
"axis": {"labelFont": "DejaVu Sans", "labelFontSize": 11, "labelColor": "#222", "titleFont": "DejaVu Sans", "titleFontSize": 10.5, "titleFontWeight": "normal", "titleColor": "#222", "grid": true, "gridColor": "#999", "gridDash": [1, 2], "gridWidth": 0.8, "domain": false, "ticks": false, "labelFlush": false, "labelOverlap": false, "labelPadding": 5, "titlePadding": 4},
"legend": {"orient": "top-right", "offset": 7, "title": null, "strokeColor": "#222", "fillColor": "white", "padding": 3, "symbolOffset": 7, "symbolType": "stroke", "symbolSize": 400, "symbolStrokeWidth": 1.5, "symbolOpacity": 0.65, "labelFont": "DejaVu Sans", "labelFontSize": 13.5, "labelColor": "#222", "labelOffset": 12, "labelLimit": 400, "rowPadding": 2, "cornerRadius": 0}
}
}
